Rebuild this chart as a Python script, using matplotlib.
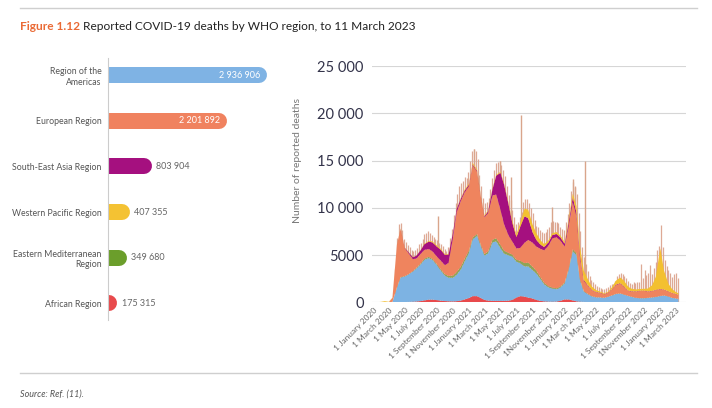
import matplotlib
matplotlib.use("Agg")
import matplotlib.pyplot as plt
import matplotlib.transforms as mtransforms
from matplotlib.lines import Line2D
import pandas as pd

plt.rcParams['font.family'] = ['Lato', 'DejaVu Sans']

# ---------------- data: left panel ----------------
regions = ["Region of the\nAmericas", "European Region", "South-East Asia Region",
           "Western Pacific Region", "Eastern Mediterranean\nRegion", "African Region"]
region_totals = [2936906, 2201892, 803904, 407355, 349680, 175315]
total_labels = ["2 936 906", "2 201 892", "803 904", "407 355", "349 680", "175 315"]
region_colors = ["#7fb3e4", "#f0825f", "#a5107f", "#f4c233", "#6b9e2b", "#e84a4c"]
inside_label = [True, True, False, False, False, False]

# ---------------- data: right panel (deaths per day) ----------------
dates = [f"{y}-{m:02d}-{d:02d}" for y in (2020, 2021, 2022) for m in range(1, 13) for d in (1, 15)] + \
        ["2023-01-01", "2023-01-15", "2023-02-01", "2023-02-15", "2023-03-01", "2023-03-11"]

african = [0, 0, 0, 0, 0, 0, 10, 20, 30, 40, 60, 90, 130, 200, 280, 280, 230, 170, 130, 110, 100, 120, 180, 300,
           450, 650, 650, 450, 250, 180, 150, 150, 150, 150, 170, 250, 500, 650, 600, 500, 400, 250, 150, 100, 70, 60, 80, 150,
           300, 300, 200, 100, 60, 40, 30, 20, 20, 20, 20, 20, 20, 20, 20, 15, 15, 10, 10, 10, 10, 10, 10, 10,
           10, 10, 10, 10, 10, 10]
americas = [0, 0, 0, 0, 0, 30, 1500, 2600, 2700, 2900, 3200, 3500, 3900, 4300, 4400, 4200, 3700, 3200, 2700, 2500, 2500, 2800, 3300, 4000,
            4800, 6000, 6400, 5500, 4700, 5000, 6200, 6300, 5600, 5000, 4800, 4600, 3800, 3500, 3200, 3300, 3000, 2800, 2300, 1800, 1500, 1400, 1300, 1400,
            1700, 3000, 5200, 4900, 2200, 1100, 800, 600, 500, 500, 450, 550, 700, 850, 900, 800, 650, 550, 450, 420, 420, 450, 500, 550,
            650, 700, 600, 450, 400, 350]
eastern_med = [0, 0, 0, 0, 0, 20, 70, 60, 40, 30, 50, 80, 100, 130, 130, 100, 100, 130, 150, 180, 230, 280, 300, 280,
               230, 200, 180, 150, 150, 200, 280, 330, 330, 300, 250, 200, 200, 250, 350, 400, 350, 280, 200, 150, 130, 100, 100, 100,
               100, 130, 200, 200, 130, 60, 40, 30, 20, 15, 15, 15, 20, 25, 25, 20, 15, 15, 15, 15, 15, 15, 15, 15,
               15, 15, 15, 10, 10, 10]
european = [0, 0, 0, 0, 10, 420, 4460, 5060, 2940, 2230, 1250, 970, 1000, 920, 820, 800, 800, 920, 950, 1370, 4020, 6320, 6950, 7020,
            6820, 7630, 6570, 5030, 3900, 4050, 4670, 4620, 3720, 2800, 1850, 1400, 1200, 1350, 2150, 2400, 2550, 2570, 3000, 3450, 4320, 5200, 5400, 4900,
            3800, 4420, 5000, 3900, 2220, 1060, 840, 620, 520, 465, 365, 415, 620, 925, 1025, 820, 515, 565, 660, 760, 760, 660, 660, 715,
            715, 615, 510, 510, 460, 410]
south_east_asia = [0, 0, 0, 0, 0, 0, 20, 30, 60, 120, 200, 300, 400, 600, 800, 950, 1050, 1150, 1100, 900, 500, 350, 250, 200,
                   150, 120, 100, 100, 100, 200, 700, 2000, 3900, 4200, 3300, 2000, 1200, 2200, 2800, 2300, 1100, 700, 450, 350, 350, 350, 350, 350,
                   300, 400, 500, 400, 300, 100, 50, 40, 30, 30, 30, 30, 40, 50, 50, 40, 30, 30, 25, 25, 25, 25, 25, 25,
                   25, 20, 20, 15, 15, 15]
western_pacific = [0, 5, 50, 120, 40, 20, 30, 50, 40, 30, 20, 20, 30, 50, 80, 100, 120, 100, 80, 60, 50, 50, 70, 100,
                   120, 150, 150, 130, 100, 90, 90, 90, 100, 120, 150, 200, 300, 400, 800, 900, 800, 700, 450, 300, 200, 200, 200, 200,
                   200, 250, 400, 700, 900, 1000, 600, 350, 200, 120, 80, 80, 200, 400, 600, 600, 400, 250, 200, 180, 200, 300, 600, 1400,
                   4300, 2000, 800, 400, 200, 150]

# single-day reporting spikes (date, top of spike)
spike_dates = ["2020-09-05", "2021-01-21", "2021-04-28", "2021-06-10", "2021-07-20",
               "2021-11-12", "2022-02-03", "2022-02-10", "2022-03-18"]
spike_tops = [9100, 16200, 14900, 13300, 19800, 10100, 13000, 12200, 15000]

# weekly reporting peaks (tops of the daily fringe), one per week from 25 March 2020
weekly_spike_start = "2020-03-25"
weekly_spike_tops = [
    3500,
    6800, 8300, 8400, 7600, 6700,
    6400, 6100, 5900, 5500,
    5400, 5500, 5700, 6200,
    6300, 6700, 7200, 7300, 7500,
    7300, 7100, 6900, 6700,
    6600, 6300, 6200, 6000, 5600,
    5400, 5800, 6800, 7800,
    9200, 10500, 11500, 12300,
    12600, 12800, 13300, 13200, 13800,
    15000, 16000, 16200, 16000,
    15200, 13500, 12300, 11000,
    10500, 10600, 11000, 12000, 13200,
    14000, 14700, 14800, 14900,
    14500, 14000, 13400, 12300,
    11400, 10800, 9800, 9000, 8300,
    8500, 9000, 9600, 10600,
    10900, 10900, 10500, 10000,
    9400, 8700, 8100, 8000, 7700,
    7400, 7300, 7400, 7800,
    8000, 8500, 8600, 8500,
    8500, 8400, 8000, 7800, 7600,
    8500, 9300, 10500, 11800,
    12700, 12300, 11500, 9500,
    7500, 5800, 4800, 4000, 3300,
    2800, 2400, 2100, 1900,
    1700, 1600, 1500, 1400,
    1400, 1500, 1600, 1800, 1900,
    1900, 2300, 2800, 3000, 3100, 3000, 2800, 2600, 2300, 2000, 1900, 2100, 2000, 2200, 2100, 4100,
    2600, 3400, 2900, 3100, 3900, 3000, 3600, 4300, 5500, 6000, 8200, 5900, 4500, 3800, 3400, 3100,
    2700, 3000, 3100, 2600]

tick_dates = ["2020-01-01", "2020-03-01", "2020-05-01", "2020-07-01", "2020-09-01", "2020-11-01",
              "2021-01-01", "2021-03-01", "2021-05-01", "2021-07-01", "2021-09-01", "2021-11-01",
              "2022-01-01", "2022-03-01", "2022-05-01", "2022-07-01", "2022-09-01", "2022-11-01",
              "2023-01-01", "2023-03-01"]
tick_labels = ["1 January 2020", "1 March 2020", "1 May 2020", "1 July 2020", "1 September 2020", "1 November 2020",
               "1 January 2021", "1 March 2021", "1 May 2021", "1 July 2021", "1 September 2021", "1November 2021",
               "1 January 2022", "1 Mar ch 2022", "1 May 2022", "1 July 2022", "1 September 2022", "1November 2022",
               "1 January 2023", "1 March 2023"]
y_ticks = [0, 5000, 10000, 15000, 20000, 25000]
y_tick_labels = ["0", "5000", "10 000", "15 000", "20 000", "25 000"]

# ---------------- figure ----------------
W, H = 712, 408
fig = plt.figure(figsize=(W / 100, H / 100), dpi=100)

def fx(px):
    return px / W

def fy(py):
    return 1 - py / H

# rules
fig.add_artist(Line2D([fx(20), fx(697)], [fy(8), fy(8)], color="#cfcfcf", lw=1.0))
fig.add_artist(Line2D([fx(20), fx(697)], [fy(373), fy(373)], color="#cfcfcf", lw=1.0))

# title
t1 = fig.text(fx(20), fy(27), "Figure 1.12", fontsize=8.6, fontweight="bold", color="#ea6a35", va="center", ha="left")
fig.canvas.draw()
r = fig.canvas.get_renderer()
bb = t1.get_window_extent(renderer=r)
fig.text(bb.x1 / W + fx(3), fy(27), "Reported COVID-19 deaths by WHO region, to 11 March 2023",
         fontsize=8.6, color="#222222", va="center", ha="left")

fig.text(fx(20), fy(394), "Source: Ref. (11).", fontsize=6.5, style="italic", color="#555555", va="center", ha="left")

# ---------------- left panel ----------------
axl = fig.add_axes([fx(108), fy(320), fx(172), (320 - 58) / H])
axl.set_xlim(0, 3177000)
axl.set_ylim(5.37, -0.38)
bar_h_pt = 16 * 72 / 100
shift = mtransforms.offset_copy(axl.transData, fig=fig, x=-bar_h_pt / 2, units="points")
for i, (v, c) in enumerate(zip(region_totals, region_colors)):
    axl.plot([0, v], [i, i], color=c, lw=bar_h_pt, solid_capstyle="round", transform=shift, clip_on=True)
    if inside_label[i]:
        axl.annotate(total_labels[i], (v, i), xytext=(-5, 0), textcoords="offset points",
                     ha="right", va="center", fontsize=6.5, color="white")
    else:
        axl.annotate(total_labels[i], (v, i), xytext=(3, 0), textcoords="offset points",
                     ha="left", va="center", fontsize=6.5, color="#666666")
axl.set_yticks(range(len(regions)))
axl.set_yticklabels(regions, fontsize=6.3, color="#555555", multialignment="right")
axl.tick_params(axis="y", length=0, pad=4.5)
axl.set_xticks([])
for s in ["top", "right", "bottom"]:
    axl.spines[s].set_visible(False)
axl.spines["left"].set_color("#cccccc")
axl.spines["left"].set_linewidth(0.8)
axl.patch.set_alpha(0)

# ---------------- right panel ----------------
axr = fig.add_axes([fx(372), fy(302.3), fx(686 - 372), (302.3 - 66) / H])
d = pd.to_datetime(dates)
stack_series = [african, americas, eastern_med, european, south_east_asia, western_pacific]
stack_colors = ["#e84a4c", "#7db3e3", "#8fa455", "#ef845e", "#a5107f", "#f3c030"]

wd = pd.date_range(weekly_spike_start, periods=len(weekly_spike_tops), freq="7D")
axr.vlines(wd, 0, weekly_spike_tops, color="#dba08a", lw=0.9, alpha=0.9, zorder=1)
sd = pd.to_datetime(spike_dates)
axr.vlines(sd, 0, spike_tops, color="#d9a58b", lw=1.0, zorder=1)

axr.stackplot(d, *stack_series, colors=stack_colors, linewidth=0, zorder=2)

axr.set_ylim(0, 25000)
axr.set_xlim(pd.Timestamp("2019-12-28"), pd.Timestamp("2023-04-09"))
axr.set_yticks(y_ticks)
axr.set_yticklabels(y_tick_labels, fontsize=10.5, color="#33334a")
axr.grid(axis="y", color="#d6d6d6", lw=0.8, zorder=0)
axr.set_axisbelow(True)
axr.set_xticks(pd.to_datetime(tick_dates))
axr.set_xticklabels(tick_labels, rotation=45, ha="right", rotation_mode="anchor", fontsize=6, color="#666666")
axr.tick_params(axis="both", length=0)
axr.tick_params(axis="y", pad=6)
axr.tick_params(axis="x", pad=3)
for s in axr.spines.values():
    s.set_visible(False)
axr.set_ylabel("Number of reported deaths", fontsize=7.5, color="#777777")
axr.yaxis.set_label_coords(-0.223, 0.60)
axr.patch.set_alpha(0)

fig.savefig("out.png", dpi=100)
